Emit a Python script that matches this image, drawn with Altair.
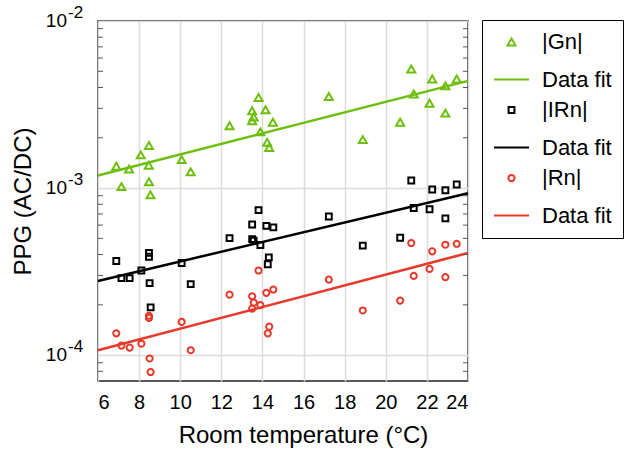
import altair as alt
import pandas as pd

# ---- data ----
g_temp = [6.89, 7.14, 7.51, 8.08, 8.48, 8.47, 8.48, 8.55, 10.07, 10.51, 12.40, 13.50, 13.57, 13.50, 13.81,
          14.15, 13.90, 14.51, 14.23, 14.33, 17.23, 18.88, 20.70, 21.24, 21.36, 22.26, 22.13, 22.90, 22.90, 23.45]
g_val = [1.35e-3, 1.02e-3, 1.30e-3, 1.58e-3, 1.80e-3, 1.37e-3, 1.09e-3, 9.1e-4, 1.48e-3, 1.25e-3, 2.36e-3,
         2.90e-3, 2.66e-3, 2.53e-3, 3.48e-3, 2.94e-3, 2.17e-3, 2.48e-3, 1.88e-3, 1.75e-3, 3.53e-3, 1.95e-3,
         2.48e-3, 5.16e-3, 3.66e-3, 4.5e-3, 3.22e-3, 4.09e-3, 2.81e-3, 4.5e-3]

ir_temp = [6.89, 7.14, 7.54, 8.11, 8.48, 8.48, 8.51, 8.56, 10.07, 10.51, 12.40, 13.50, 13.57, 13.50, 13.81,
           13.90, 14.19, 14.53, 14.31, 14.26, 17.23, 18.88, 20.70, 21.24, 21.36, 22.13, 22.90, 22.26, 22.90, 23.45]
ir_val = [3.66e-4, 2.89e-4, 2.89e-4, 3.21e-4, 4.09e-4, 3.88e-4, 2.70e-4, 1.93e-4, 3.56e-4, 2.66e-4, 5.02e-4,
          4.95e-4, 4.84e-4, 6.05e-4, 7.37e-4, 4.56e-4, 5.94e-4, 5.81e-4, 3.85e-4, 3.50e-4, 6.76e-4, 4.52e-4,
          5.04e-4, 1.11e-3, 7.60e-4, 7.47e-4, 6.58e-4, 9.8e-4, 9.7e-4, 1.05e-3]

r_temp = [6.89, 7.14, 7.54, 8.11, 8.48, 8.48, 8.51, 8.56, 10.07, 10.51, 12.40, 13.50, 13.58, 13.50, 13.81,
          13.90, 14.19, 14.53, 14.33, 14.26, 17.23, 18.88, 20.70, 21.24, 21.36, 22.26, 22.13, 22.90, 22.90, 23.45]
r_val = [1.35e-4, 1.14e-4, 1.11e-4, 1.17e-4, 1.72e-4, 1.67e-4, 9.55e-5, 7.92e-5, 1.58e-4, 1.07e-4, 2.30e-4,
         2.25e-4, 2.06e-4, 1.90e-4, 3.21e-4, 1.99e-4, 2.36e-4, 2.47e-4, 1.48e-4, 1.35e-4, 2.83e-4, 1.85e-4,
         2.12e-4, 4.69e-4, 2.98e-4, 4.18e-4, 3.28e-4, 4.58e-4, 2.93e-4, 4.64e-4]

fit_temp = [6, 24]
g_fit = [1.19e-3, 4.38e-3]
ir_fit = [2.78e-4, 9.3e-4]
r_fit = [1.07e-4, 4.09e-4]

x_ticks = [6, 8, 10, 12, 14, 16, 18, 20, 22, 24]
y_decades = [1e-4, 1e-3, 1e-2]
y_exponents = ["-4", "-3", "-2"]
y_minor = [8e-5, 9e-5, 2e-4, 3e-4, 4e-4, 5e-4, 6e-4, 7e-4, 8e-4, 9e-4,
           2e-3, 3e-3, 4e-3, 5e-3, 6e-3, 7e-3, 8e-3, 9e-3]

series_keys = ["Gn", "Gfit", "IRn", "IRfit", "Rn", "Rfit"]
GREEN, BLACK, RED = "#6cbf0c", "#000000", "#e8392b"
series_colors = [GREEN, GREEN, BLACK, BLACK, RED, RED]
series_shapes = ["triangle-up", "stroke", "square", "stroke", "circle", "stroke"]
series_sizes = [64, 1225, 34, 1225, 38, 1225]

# ---- tables ----
pts = pd.concat([
    pd.DataFrame({"temp": g_temp, "value": g_val, "series": "Gn"}),
    pd.DataFrame({"temp": ir_temp, "value": ir_val, "series": "IRn"}),
    pd.DataFrame({"temp": r_temp, "value": r_val, "series": "Rn"}),
])
fits = pd.concat([
    pd.DataFrame({"temp": fit_temp, "value": g_fit, "series": "Gfit"}),
    pd.DataFrame({"temp": fit_temp, "value": ir_fit, "series": "IRfit"}),
    pd.DataFrame({"temp": fit_temp, "value": r_fit, "series": "Rfit"}),
])
dec = pd.DataFrame({"value": y_decades, "exp": y_exponents})
minor = pd.DataFrame({"value": y_minor})

W, H = 370, 360
FONT = "Liberation Sans"

xscale = alt.Scale(domain=[6, 24], nice=False, zero=False)
yscale = alt.Scale(type="log", domain=[7e-5, 1e-2], nice=False)

legend = alt.Legend(
    title=None, orient="none", legendX=384, legendY=-1,
    strokeColor="black", fillColor="white", padding=11,
    labelFont=FONT, labelFontSize=22, labelColor="black", labelOffset=12,
    symbolStrokeWidth=2, rowPadding=8,
    labelExpr="(indexof(datum.label, 'fit') >= 0 ? 'Data fit' : '|' + datum.label + '|') + '\u00a0\u00a0'",
)

color = alt.Color("series:N", scale=alt.Scale(domain=series_keys, range=series_colors), legend=legend)
shape = alt.Shape("series:N", scale=alt.Scale(domain=series_keys, range=series_shapes), legend=legend)
size = alt.Size("series:N", scale=alt.Scale(type="ordinal", domain=series_keys, range=series_sizes),
                legend=legend)

x_axis = alt.Axis(values=x_ticks, grid=True, gridColor="#dcdcdc", gridWidth=1.5, ticks=False, domain=False,
                  labelFontSize=20, labelPadding=11, labelColor="black", labelFont=FONT,
                  title="Room temperature (°C)", titleFontSize=24, titleFont=FONT, titleFontWeight="normal",
                  titlePadding=11, titleColor="black", titleX=205)
y_axis = alt.Axis(values=y_decades, grid=True, gridColor="#dcdcdc", gridWidth=1.5, ticks=False, domain=False,
                  labels=False, title="PPG (AC/DC)", titleFontSize=24, titleFont=FONT,
                  titleFontWeight="normal", titlePadding=63, titleColor="black")

base_x = alt.X("temp:Q", scale=xscale, axis=x_axis)
base_y = alt.Y("value:Q", scale=yscale, axis=y_axis)

lines = alt.Chart(fits).mark_line(strokeWidth=2.5).encode(x=base_x, y=base_y, color=color, detail="series:N")
points = alt.Chart(pts).mark_point(filled=False, strokeWidth=2, opacity=1).encode(
    x=alt.X("temp:Q", scale=xscale), y=alt.Y("value:Q", scale=yscale), color=color, shape=shape, size=size)

minor_left = alt.Chart(minor).mark_rule(color="#555555", strokeWidth=1).encode(
    y=alt.Y("value:Q", scale=yscale), x=alt.value(0), x2=alt.value(5))
minor_right = alt.Chart(minor).mark_rule(color="#555555", strokeWidth=1).encode(
    y=alt.Y("value:Q", scale=yscale), x=alt.value(W - 5), x2=alt.value(W))

lab10 = alt.Chart(dec).mark_text(text="10", align="right", baseline="middle", fontSize=19, font=FONT,
                                 color="black").encode(y=alt.Y("value:Q", scale=yscale), x=alt.value(-31))
labexp = alt.Chart(dec).mark_text(align="left", baseline="middle", fontSize=17, font=FONT, dy=-8,
                                  color="black").encode(y=alt.Y("value:Q", scale=yscale), x=alt.value(-30),
                                                        text="exp:N")

chart = alt.layer(lines, minor_left, minor_right, points, lab10, labexp).properties(
    width=W, height=H,
    autosize=alt.AutoSizeParams(type="none"),
    padding={"left": 98, "top": 21, "right": 157, "bottom": 73},
).configure(font=FONT).configure_view(stroke="#222222", strokeWidth=1.5)

chart.save("out.html", embed_options={"renderer": "svg", "actions": False})
